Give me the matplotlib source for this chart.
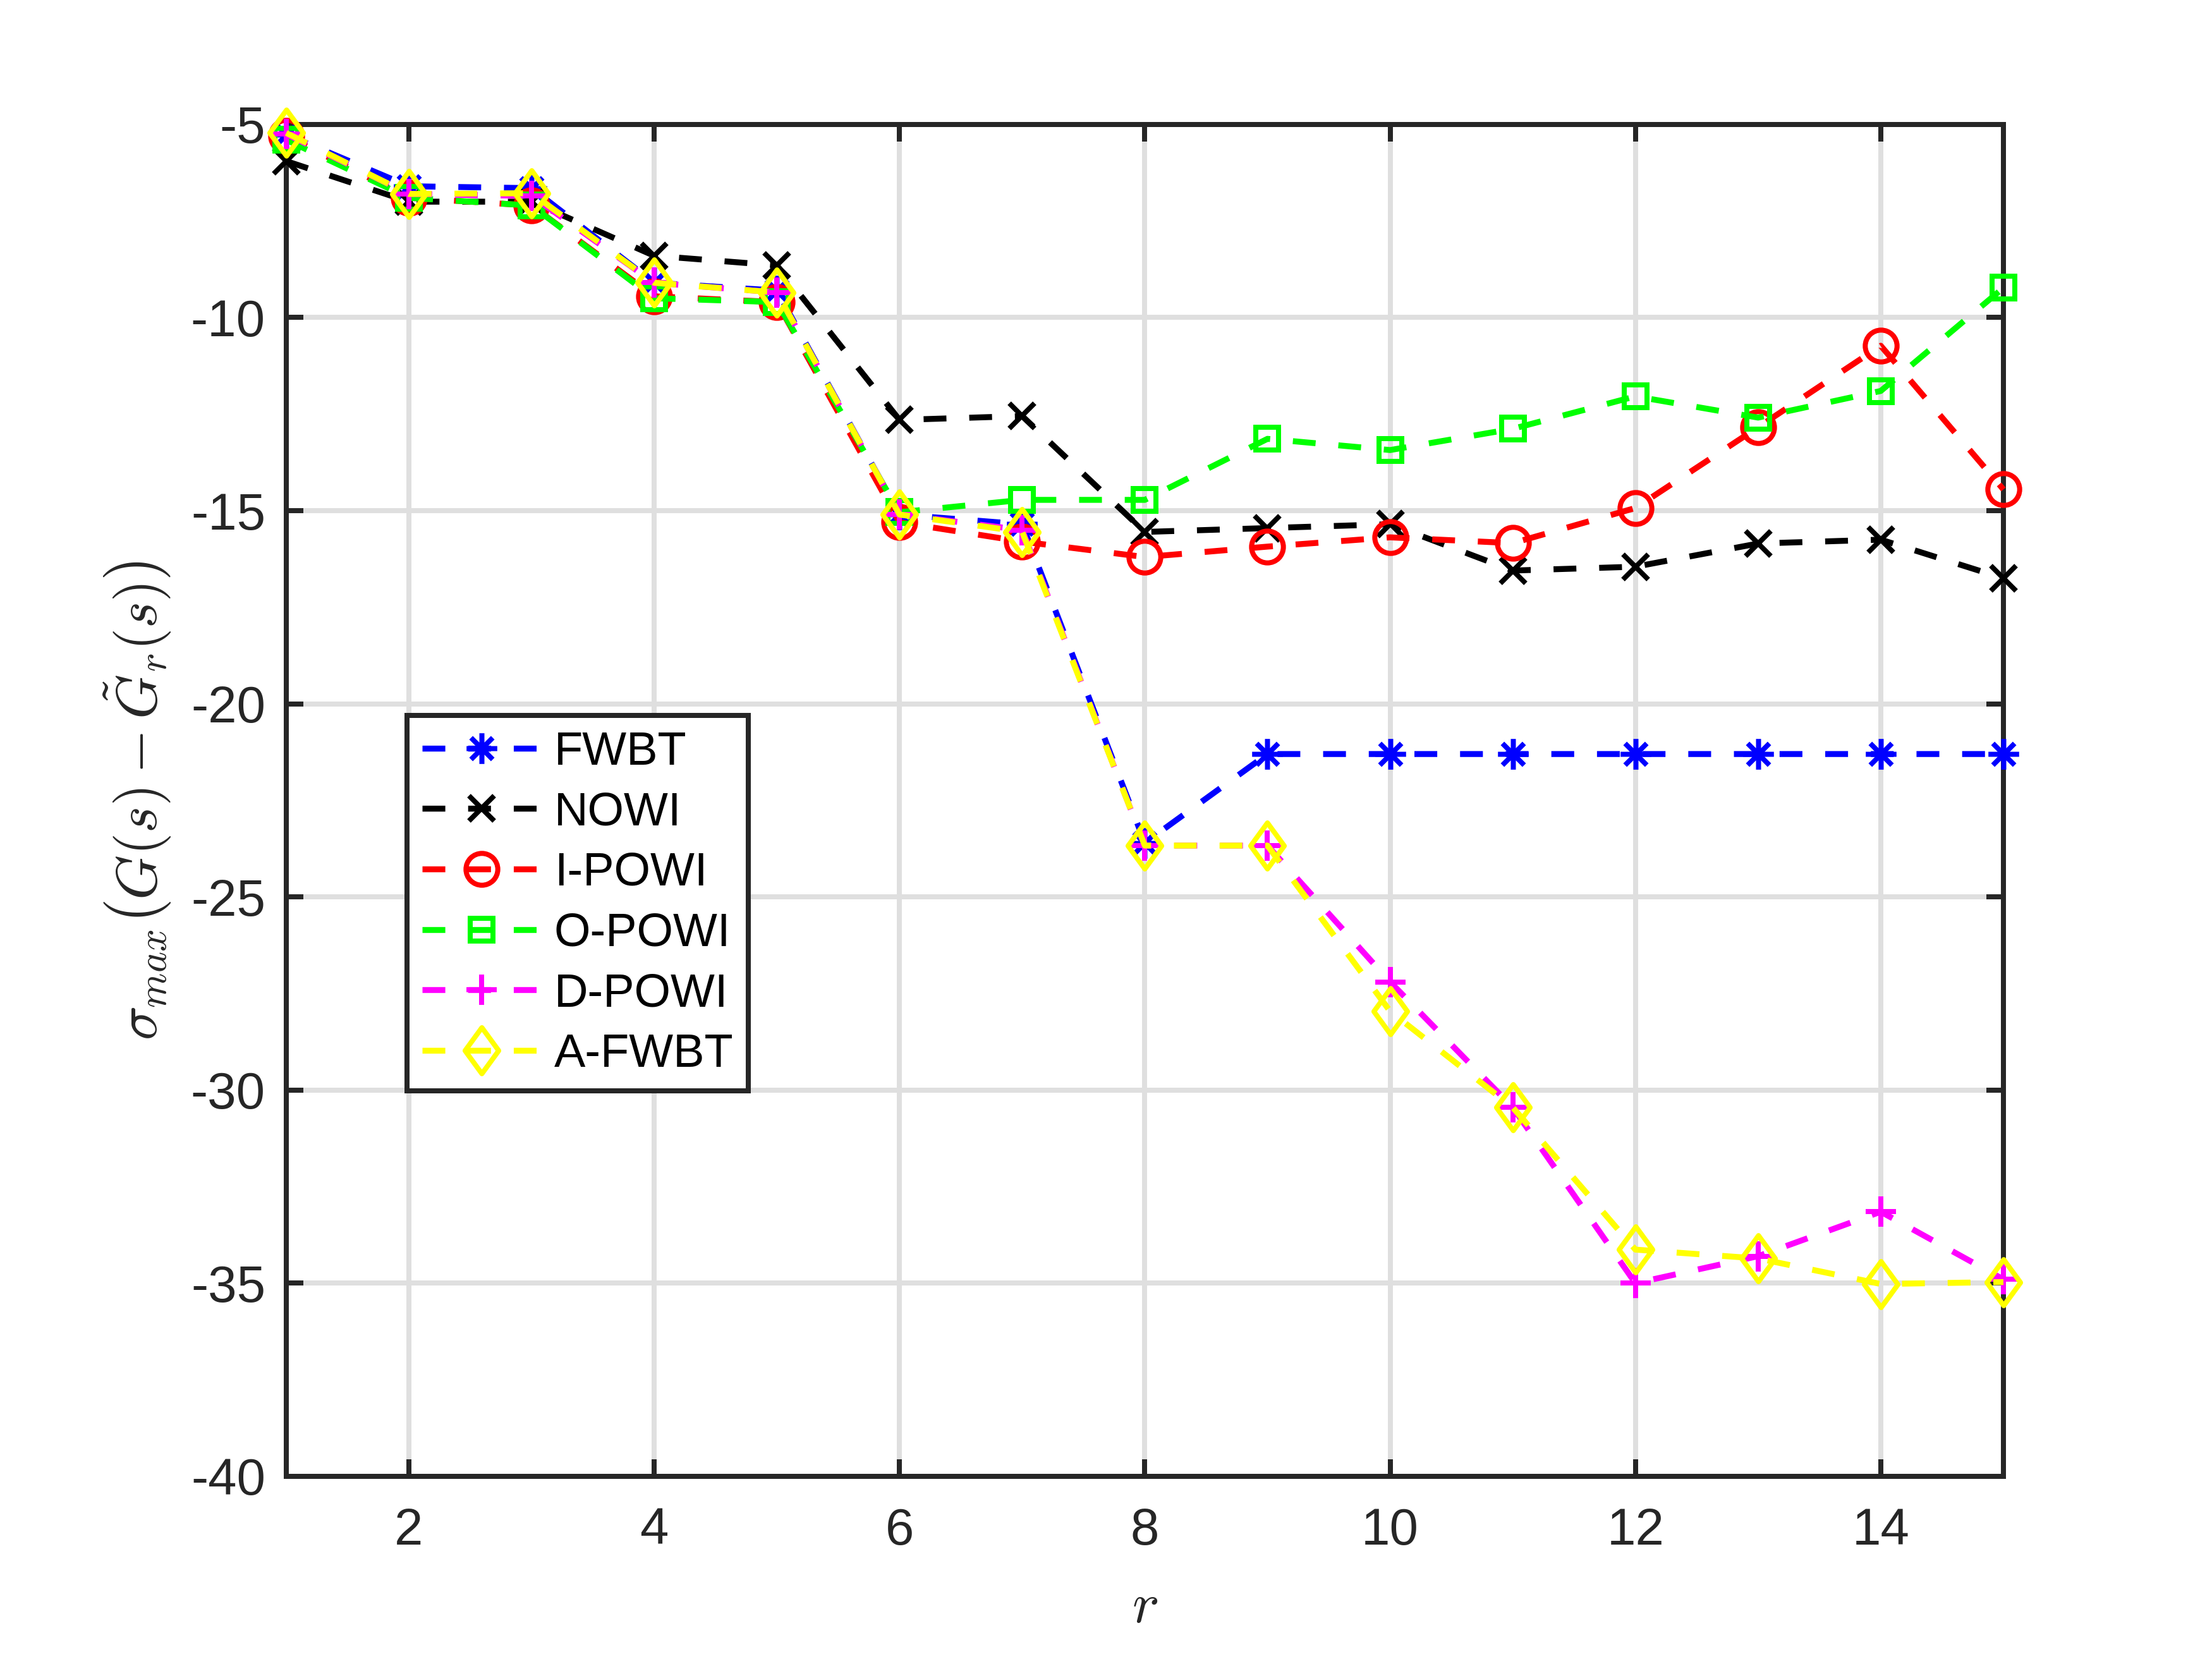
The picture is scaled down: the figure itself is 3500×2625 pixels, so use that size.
import matplotlib
matplotlib.use("Agg")
import matplotlib.pyplot as plt
from matplotlib.path import Path

plt.rcParams['font.family'] = ['Liberation Sans', 'DejaVu Sans']
plt.rcParams['mathtext.fontset'] = 'cm'
plt.rcParams['axes.unicode_minus'] = False

# ---------------- data ----------------
r = [1, 2, 3, 4, 5, 6, 7, 8, 9, 10, 11, 12, 13, 14, 15]
fwbt = [-5.26, -6.6, -6.65, -9.1, -9.3, -15.1, -15.35, -23.6, -21.3, -21.3, -21.3, -21.3, -21.3, -21.3, -21.3]
nowi = [-5.95, -7.0, -7.0, -8.4, -8.65, -12.65, -12.55, -15.55, -15.45, -15.35, -16.55, -16.45, -15.85, -15.75, -16.75]
ipowi = [-5.3, -6.9, -7.1, -9.45, -9.6, -15.3, -15.8, -16.2, -15.93, -15.69, -15.84, -14.93, -12.84, -10.73, -14.45]
opowi = [-5.4, -6.9, -7.1, -9.5, -9.6, -15.04, -14.72, -14.72, -13.14, -13.43, -12.88, -12.04, -12.59, -11.9, -9.23]
dpowi = [-5.25, -6.8, -6.85, -9.1, -9.35, -15.1, -15.5, -23.67, -23.67, -27.2, -30.45, -35.0, -34.3, -33.15, -34.9]
afwbt = [-5.22, -6.8, -6.78, -9.1, -9.35, -15.1, -15.55, -23.67, -23.67, -27.96, -30.45, -34.13, -34.36, -35.02, -34.97]

labels = ['FWBT', 'NOWI', 'I-POWI', 'O-POWI', 'D-POWI', 'A-FWBT']
xticks = [2, 4, 6, 8, 10, 12, 14]
yticks = [-40, -35, -30, -25, -20, -15, -10, -5]

# ---------------- marker shapes ----------------
ast_path = Path([(0, -1), (0, 1), (-1, 0), (1, 0),
                 (-0.707, -0.707), (0.707, 0.707), (-0.707, 0.707), (0.707, -0.707)],
                [Path.MOVETO, Path.LINETO] * 4)
dia_path = Path([(0, 1), (0.73, 0), (0, -1), (-0.73, 0), (0, 1)],
                [Path.MOVETO, Path.LINETO, Path.LINETO, Path.LINETO, Path.CLOSEPOLY])

fig = plt.figure(figsize=(14, 10.5), dpi=250)
ax = fig.add_axes([0.1294, 0.1101, 0.7763, 0.8149])

lw = 2.7
dash = (0, (10.4 / lw, 10.4 / lw))
mew = 2.3
series = [
    (fwbt, (0, 0, 1), ast_path, 14.0),
    (nowi, (0, 0, 0), 'x', 11.5),
    (ipowi, (1, 0, 0), 'o', 14.5),
    (opowi, (0, 1, 0), 's', 10.5),
    (dpowi, (1, 0, 1), '+', 14.0),
    (afwbt, (1, 1, 0), dia_path, 21.0),
]
for (vals, col, mk, ms), lab in zip(series, labels):
    ax.plot(r, vals, linestyle=dash, color=col, lw=lw, marker=mk, markersize=ms,
            markeredgewidth=mew, markerfacecolor='none', markeredgecolor=col,
            label=lab, clip_on=False, zorder=3)

ax.set_xlim(1, 15)
ax.set_ylim(-40, -5)
ax.set_xticks(xticks)
ax.set_yticks(yticks)

dark = '#262626'
for s in ax.spines.values():
    s.set_color(dark)
    s.set_linewidth(2.3)
ax.tick_params(direction='in', length=7.8, width=2.3, top=True, right=True,
               colors=dark, labelsize=23.5)
ax.tick_params(axis='x', pad=14)
ax.tick_params(axis='y', pad=9.5)
ax.grid(True, color='#dfdfdf', lw=2.3, zorder=0)
ax.set_axisbelow(True)

ax.set_xlabel(r'$r$', fontsize=26, color=dark)
ax.set_ylabel(r'$\sigma_{max}\left(G(s)-\tilde{G}_r(s)\right)$', fontsize=26, color=dark)
ax.xaxis.set_label_coords(0.5, -0.077)
ax.yaxis.set_label_coords(-0.066, 0.5)

leg = ax.legend(loc='lower left', bbox_to_anchor=(0.0703, 0.285), borderaxespad=0,
                fontsize=21.3, frameon=True, fancybox=False, framealpha=1,
                edgecolor=dark, handlelength=2.55, handletextpad=0.28,
                borderpad=0.32, labelspacing=0.36, numpoints=1)
leg.get_frame().set_linewidth(2.3)
leg.set_zorder(10)

fig.savefig('out.png', dpi=250, facecolor='white')
